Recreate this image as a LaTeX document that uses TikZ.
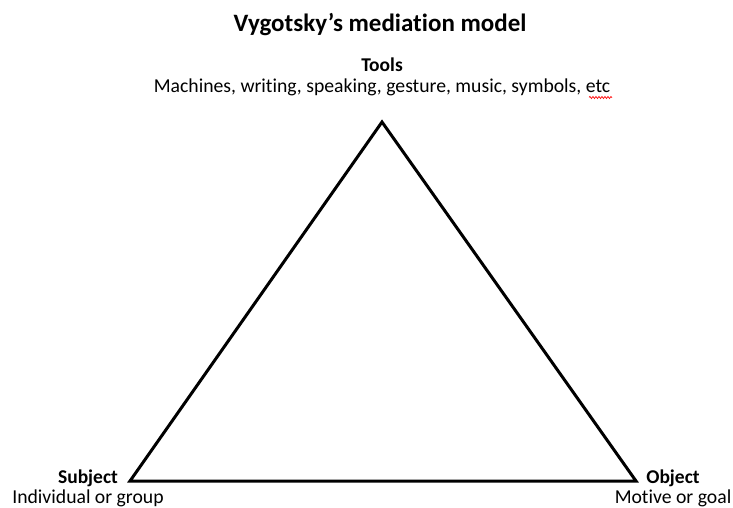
\documentclass[tikz,border=0pt]{standalone}
\usepackage{fontspec}
\setmainfont[Ligatures=NoCommon]{Carlito}
\usetikzlibrary{decorations.pathmorphing}
\begin{document}
\begin{tikzpicture}[x=1pt,y=-1pt,
  title/.style={font=\bfseries\fontsize{25}{30}\selectfont, inner sep=0pt},
  head/.style={font=\bfseries\fontsize{19.5}{23}\selectfont, inner sep=0pt},
  sub/.style={font=\fontsize{19.7}{23}\selectfont, inner sep=0pt},
  edge/.style={line width=3pt, line join=miter}]
\useasboundingbox (0,0) rectangle (733,508);
\node[title] (title) at (380,25) {Vygotsky’s mediation model};
\node[head] (tools) at (382,65) {Tools};
\node[sub] (toolsub) at (382,87) {Machines, writing, speaking, gesture, music, symbols, etc};
\coordinate (T) at (382,122);
\coordinate (S) at (130,481);
\coordinate (O) at (636,481);
\draw[edge] (S) -- (T) -- (O) -- cycle;
\node[head] (subj) at (88,478) {Subject};
\node[sub] (subjsub) at (88,498) {Individual or group};
\node[head] (obj) at (673,478) {Object};
\node[sub] (objsub) at (673,498) {Motive or goal};
\coordinate (w1) at (589,97.5);
\coordinate (w2) at (612,97.5);
\draw[red, line width=0.7pt, decorate, decoration={snake, amplitude=1pt, segment length=3pt}] (w1) -- (w2);
\end{tikzpicture}
\end{document}
